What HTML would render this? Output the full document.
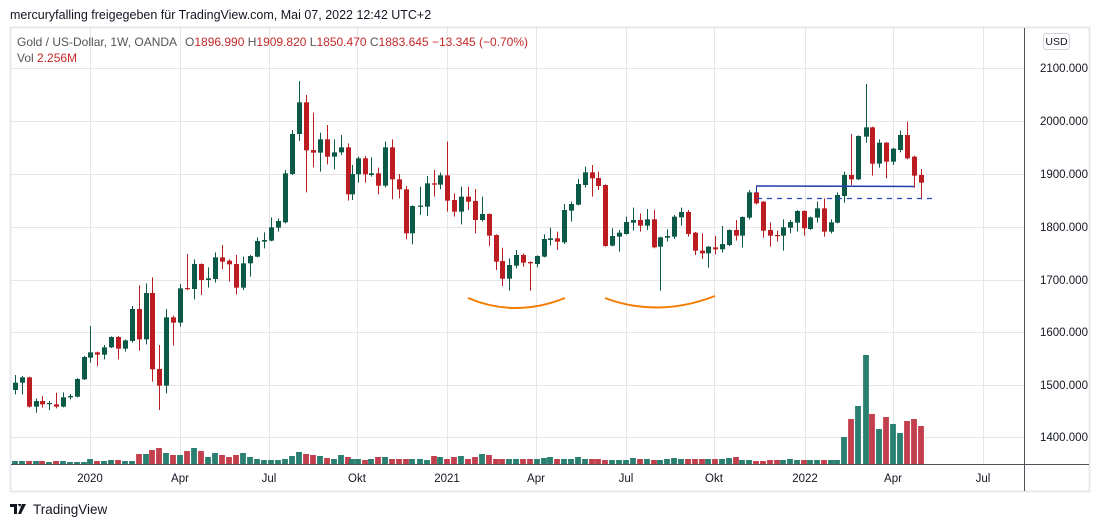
<!DOCTYPE html>
<html><head><meta charset="utf-8">
<style>
body{margin:0;background:#fff;font-family:"Liberation Sans",sans-serif;}
svg{display:block}
</style></head>
<body>
<svg id="c" width="1100" height="527" xmlns="http://www.w3.org/2000/svg" font-family="Liberation Sans, sans-serif">
<rect x="0" y="0" width="1100" height="527" fill="#fff"/>
<text x="10" y="19" font-size="12.5" fill="#131722">mercuryfalling freigegeben für TradingView.com, Mai 07, 2022 12:42 UTC+2</text>
<rect x="10.5" y="27.5" width="1079" height="464" fill="none" stroke="#e6e8ee" stroke-width="2"/>
<g id="grid" stroke="#e6e6e6" stroke-width="1"></g>
<line x1="1024.5" y1="28" x2="1024.5" y2="491" stroke="#50535e" stroke-width="1"/>
<line x1="11" y1="464.5" x2="1089" y2="464.5" stroke="#50535e" stroke-width="1"/>
<g id="vol"></g>
<g id="cand"></g>
<path d="M468,298 Q515,318 565,298" fill="none" stroke="#f57c00" stroke-width="2"/>
<path d="M605,298 Q658,318 715,296" fill="none" stroke="#f57c00" stroke-width="2"/>
<line x1="756" y1="186" x2="914" y2="186.5" stroke="#1e3caa" stroke-width="1.5"/>
<line x1="756.5" y1="186" x2="756.5" y2="193" stroke="#1e3caa" stroke-width="1"/>
<line x1="757" y1="198.5" x2="935" y2="198.5" stroke="#2a48c0" stroke-width="1.3" stroke-dasharray="5,5"/>
<g font-size="12" fill="#131722">
<text x="17" y="46" fill="#555">Gold  / US-Dollar, 1W, OANDA</text>
<text x="185" y="46" fill="#555">O<tspan fill="#c62828">1896.990</tspan>  H<tspan fill="#c62828">1909.820</tspan>  L<tspan fill="#c62828">1850.470</tspan>  C<tspan fill="#c62828">1883.645</tspan>  <tspan fill="#c62828">−13.345 (−0.70%)</tspan></text>
<text x="17" y="62" fill="#555">Vol  <tspan fill="#c62828">2.256M</tspan></text>
</g>
<rect x="1043.5" y="33.5" width="26" height="16" rx="3" fill="#fff" stroke="#d0d3db"/>
<text x="1056.5" y="45" font-size="10.5" fill="#131722" text-anchor="middle">USD</text>
<g id="ylab" font-size="11.5" fill="#131722"></g>
<g id="xlab" font-size="11.5" fill="#131722" text-anchor="middle"></g>
<g transform="translate(10,503)">
<path d="M0,1 h7 v10 h-3 v-7 h-4z M7.5,1 h4 l-1.5,3z M12,1 h4 l-5,10 h-3z" fill="#131722"/>
</g>
<text x="33" y="514" font-size="13.5" fill="#131722">TradingView</text>
</svg>
<script>
var NS="http://www.w3.org/2000/svg";
function el(p,t,a){var e=document.createElementNS(NS,t);for(var k in a)e.setAttribute(k,a[k]);p.appendChild(e);return e;}
var grid=document.getElementById('grid'),ylab=document.getElementById('ylab'),xlab=document.getElementById('xlab');
var ys=[[2100,68],[2000,121],[1900,174],[1800,227],[1700,280],[1600,332],[1500,385],[1400,437]];
ys.forEach(function(a){el(grid,'line',{x1:11,x2:1024,y1:a[1]+.5,y2:a[1]+.5});var t=el(ylab,'text',{x:1040,y:a[1]+4});t.textContent=a[0]+'.000';});
var xs=[[90,'2020'],[180,'Apr'],[269,'Jul'],[357,'Okt'],[447,'2021'],[536,'Apr'],[626,'Jul'],[714,'Okt'],[805,'2022'],[893,'Apr'],[983,'Jul']];
xs.forEach(function(a){el(grid,'line',{x1:a[0]+.5,x2:a[0]+.5,y1:28,y2:464});var t=el(xlab,'text',{x:a[0],y:482});t.textContent=a[1];});
// x, color, wickTop, bodyTop, bodyBot, wickBot (zoom units, y=60+z/3)
var D=[
[15,'g',945,968,990,1003],[22,'g',948,952,968,1003],[29,'r',950,952,1040,1043],[36,'g',1015,1023,1040,1058],[42,'r',1008,1023,1033,1043],
[49,'g',1023,1029,1032,1050],[56,'r',998,1033,1040,1045],[63,'g',997,1012,1040,1042],[70,'g',1002,1008,1012,1018],[77,'g',954,957,1010,1012],
[84,'g',888,891,958,960],[90,'g',798,877,893,908],[97,'r',875,877,884,918],[104,'g',855,862,884,898],[111,'g',829,831,862,864],
[118,'r',828,831,866,898],[125,'g',839,841,866,875],[132,'g',738,747,843,848],[139,'r',676,747,838,872],[146,'g',670,699,838,853],
[152,'r',652,699,928,965],[159,'r',855,927,977,1050],[166,'g',747,772,977,1000],[173,'r',767,772,788,857],[180,'g',672,685,788,800],
[187,'r',582,684,687,690],[194,'g',598,612,687,718],[201,'r',610,612,660,705],[208,'g',622,655,660,683],[215,'g',577,592,657,668],
[222,'r',555,592,605,628],[229,'r',598,602,613,665],[236,'r',585,612,683,703],[243,'g',590,610,683,690],[250,'g',585,588,610,650],
[257,'g',532,543,590,592],[264,'g',517,540,545,565],[271,'g',472,502,542,544],[278,'g',475,483,503,515],[285,'g',330,340,487,490],
[292,'g',210,222,342,345],[299,'g',63,127,222,243],[306,'r',105,127,271,397],[313,'r',158,270,278,322],[320,'g',218,238,278,335],
[327,'r',195,238,290,313],[334,'g',238,277,290,328],[341,'g',225,262,277,285],[348,'r',250,262,403,422],
[352,'g',315,342,403,420],[358,'g',290,295,343,368],[365,'r',288,295,343,368],[371,'g',292,340,345,350],[378,'r',323,340,377,403],
[385,'g',245,262,377,382],[392,'r',238,262,358,418],[399,'r',342,358,388,415],[406,'r',378,388,520,538],[412,'g',436,438,520,553],
[420,'g',380,437,440,465],[427,'g',348,370,440,468],[434,'r',330,370,374,410],[440,'g',338,346,374,388],[447,'r',245,346,422,455],
[454,'r',400,420,455,470],[461,'g',380,410,455,493],[468,'r',380,410,425,450],[475,'r',387,423,480,520],[482,'g',410,462,480,485],
[489,'r',460,462,527,558],[496,'r',523,525,605,630],[502,'r',563,603,656,678],[509,'g',595,615,656,692],[516,'g',570,585,617,625],
[523,'r',580,585,608,620],[530,'r',604,606,610,692],[537,'g',586,588,612,622],[544,'g',523,537,590,592],[550,'g',503,535,540,557],
[557,'r',515,535,545,570],[564,'g',432,450,547,552],[571,'g',425,432,452,485],[578,'g',357,372,434,436],[585,'g',320,337,375,383],
[592,'r',315,337,355,410],[598,'r',335,354,378,390],[605,'r',373,375,558,560],[612,'g',505,528,557,559],[619,'g',510,518,530,575],
[626,'g',470,486,522,524],[633,'g',443,480,488,512],[640,'r',460,480,497,515],[647,'g',447,478,497,510],[654,'r',450,478,562,565],
[660,'g',530,532,560,692],[667,'g',508,528,533,545],[674,'g',465,470,530,537],[681,'g',443,456,472,497],[688,'r',450,456,522,530],
[695,'r',516,518,572,585],
[702,'r',520,572,580,597],[708,'g',558,560,580,623],[715,'r',528,562,568,583],[722,'g',498,552,568,578],[729,'g',508,510,555,558],
[736,'r',480,510,527,542],[742,'g',469,471,527,563],[749,'g',390,397,473,478],[756,'r',378,397,430,433],[763,'r',423,425,512,533],
[770,'r',487,510,527,560],[777,'r',512,525,527,545],[783,'g',478,502,527,572],[790,'g',480,486,503,520],[797,'g',450,453,488,515],
[804,'r',451,453,505,527],[810,'g',470,472,507,510],[817,'g',425,445,473,488],[824,'r',415,445,515,530],[831,'g',478,487,515,520],
[837,'g',397,405,488,490],[844,'g',335,345,408,428],[851,'r',222,345,358,375],[858,'g',226,228,358,360],[866,'g',72,202,230,248],
[872,'r',200,202,311,347],[879,'g',238,248,311,323],[886,'r',246,248,305,355],[893,'g',264,266,305,315],[900,'g',212,225,270,277],
[907,'r',185,225,295,298],[914,'r',287,290,347,383],[921,'r',327,345,368,418]
];
var V=[3,3,3,3,3,2,3,3,2,2,2,5,3,3,4,4,3,3,10,10,14,16,11,9,9,13,16,13,7,11,9,7,9,11,7,5,4,4,4,5,8,
12,10,9,8,6,5,9,7,5,5,4,5,7,7,5,5,5,5,5,4,8,7,5,7,8,5,7,10,9,5,5,5,5,5,5,5,6,7,5,5,5,7,5,5,5,4,4,4,4,6,5,5,4,4,5,6,5,5,5,5,5,5,5,6,7,4,4,3,3,4,4,4,5,4,4,4,4,4,4,4];
var big={845:27,852:45,859:58,866:109,872:50,879:35,886:47,893:40,900:31,907:43,914:45,921:38};
var cg=document.getElementById('cand'),vg=document.getElementById('vol');
function Y(z){return 60+z/3;}
D.forEach(function(d,i){
 var x=d[0],col=d[1]=='g'?'#0b5a47':'#bb1d22',vcol=d[1]=='g'?'#2a8070':'#c2404d';
 var h=V[i]||4; for(var k in big){if(Math.abs(k-x)<=2)h=big[k];}
 el(vg,'rect',{x:x-2.9,y:464-h,width:5.8,height:h,fill:vcol});
 el(cg,'line',{x1:x+.5,x2:x+.5,y1:Y(d[2]),y2:Y(d[5]),stroke:col,'stroke-width':1});
 var bt=Y(d[3]),bb=Y(d[4]);if(bb-bt<1.2)bb=bt+1.2;
 el(cg,'rect',{x:x-2,y:bt,width:5,height:bb-bt,fill:col});
});
</script>
</body></html>
